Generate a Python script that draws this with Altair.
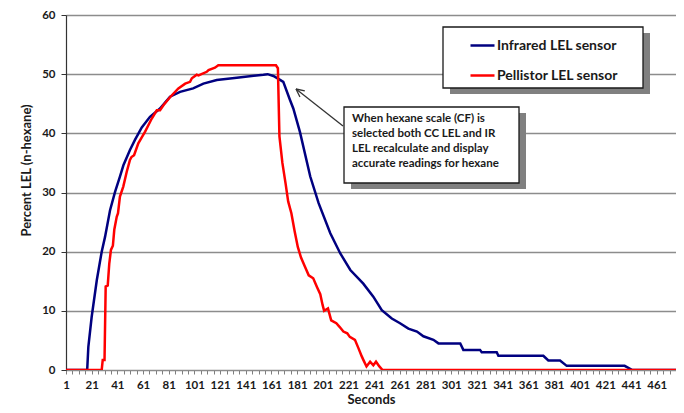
import math
import altair as alt
import pandas as pd

# ---------------- data ----------------
series_names = ["Infrared LEL sensor", "Pellistor LEL sensor"]
series_colors = ["#000080", "#FF0000"]

ir_seconds = [1, 17.5, 18.4, 21, 25, 28.8, 31.4, 35.3, 39.2, 43, 45.7, 50.8, 54.7, 60,
              66.4, 74.2, 82, 89.8, 100, 108, 118.4, 134, 154.7, 158, 162.5, 166.4,
              170.2, 175.5, 178, 183.2, 191.2, 197.7, 206.8, 214.6, 222.4, 232.5, 240.3,
              246.9, 254.7, 261.1, 267.6, 274.3, 279.3, 287.1, 291, 308, 310.4, 323.4,
              324.7, 336.4, 337.7, 372.7, 376.6, 385.7, 390.9, 436, 442, 480]
ir_lel = [0, 0, 3.9, 9, 15.2, 20, 22.5, 27, 30.1, 32.7, 34.6, 37.2, 38.9, 41,
          42.8, 44.2, 46.2, 47, 47.6, 48.4, 49, 49.4, 49.9, 50, 49.7, 49.2,
          48.7, 45.6, 44.2, 40.2, 32.7, 28.2, 23.1, 19.7, 16.9, 14.6, 12.4,
          10.1, 8.7, 7.9, 7.0, 6.5, 5.7, 5.1, 4.5, 4.5, 3.4, 3.4,
          3.0, 3.0, 2.4, 2.4, 1.6, 1.6, 0.7, 0.7, 0, 0]

pel_seconds = [1, 28.8, 29.6, 31, 31.9, 33.5, 34.7, 36, 37.5, 38.6, 40.5, 41.5, 43, 45.6,
               48.3, 50.8, 52, 54, 57.3, 60, 62.6, 67.8, 71.7, 74.2, 77, 82, 88.5, 93.8,
               97.6, 99, 102.8, 104.2, 110.6, 112, 117, 119.6, 164.5, 166, 167.2, 169.5,
               172, 174, 176.5, 179, 181.5, 184, 187, 190, 193.5, 196.5, 199, 200.8, 202,
               205, 207.5, 211.5, 214, 217, 220, 222, 226, 228.7, 231.3, 233, 235, 237.8,
               240.3, 242.4, 245, 247.5, 480]
pel_lel = [0, 0, 1.7, 1.7, 14.1, 14.3, 18, 20.3, 21, 23.7, 25.9, 26.5, 29.3, 31,
           33.5, 35.5, 36, 36.3, 38.3, 39.3, 40.3, 42.5, 43.9, 43.9, 44.8, 46.1, 47.6, 48.4,
           48.7, 49.3, 49.9, 49.8, 50.4, 50.7, 51.1, 51.5, 51.5, 51, 39.5, 35,
           31.5, 28.5, 26.5, 23.5, 20.8, 19, 17.5, 16, 15.5, 14, 12.8, 11, 10,
           10.4, 8.4, 7.9, 7.3, 6.5, 6.2, 5.6, 5.1, 3.7, 2.3, 1.5, 0.6, 1.4,
           0.8, 1.4, 0.6, 0, 0]

y_ticks = [0, 10, 20, 30, 40, 50, 60]
x_minor_ticks = list(range(1, 477, 5))
x_label_step = 20

annotation_lines = ["When hexane scale (CF) is",
                    "selected both CC LEL and IR",
                    "LEL recalculate and display",
                    "accurate readings for hexane"]

assert len(ir_seconds) == len(ir_lel)
assert len(pel_seconds) == len(pel_lel)

df_ir = pd.DataFrame({"Seconds": ir_seconds, "LEL": ir_lel, "Sensor": series_names[0]})
df_pel = pd.DataFrame({"Seconds": pel_seconds, "LEL": pel_lel, "Sensor": series_names[1]})
df_ir["idx"] = range(len(df_ir))
df_pel["idx"] = range(len(df_pel))

FONT = "Lato"
W, H = 610, 355

x_scale = alt.Scale(domain=[1, 476], nice=False, zero=False)
y_scale = alt.Scale(domain=[0, 60], nice=False, zero=True)
color_scale = alt.Scale(domain=series_names, range=series_colors)

x_axis = alt.Axis(values=x_minor_ticks,
                  labelExpr=f"(datum.value - 1) % {x_label_step} == 0 ? datum.label : ''",
                  format="d", labelOverlap=False, labelFlush=False,
                  title="Seconds", grid=False, tickSize=4, tickColor="#7f7f7f",
                  domainColor="#8c8c8c", labelPadding=5, labelFontSize=11.5,
                  labelFont=FONT, labelFontWeight="bold", labelColor="#1a1a1a",
                  titleFont=FONT, titleFontSize=13, titleFontWeight="bold",
                  titleColor="#1a1a1a", titleY=33, titleBaseline="alphabetic")
y_axis = alt.Axis(values=y_ticks, title="Percent LEL (n-hexane)", grid=True,
                  gridColor="#8c8c8c", gridWidth=1.3, tickSize=5, tickColor="#333333",
                  domainColor="#333333", domainWidth=1.2, labelPadding=6,
                  labelFontSize=11.5, labelFont=FONT, labelFontWeight="bold",
                  labelColor="#1a1a1a", titleFont=FONT, titleFontSize=13,
                  titleFontWeight="bold", titleColor="#1a1a1a", titleAngle=270,
                  titleX=-40, titleY=155, titleAlign="center", titleBaseline="middle")

legend = alt.Legend(title=None, orient="none", legendX=403, legendY=17,
                    symbolType="stroke", symbolSize=576, symbolStrokeWidth=2.5,
                    labelFont=FONT, labelFontSize=14, labelFontWeight="bold",
                    labelColor="#1a1a1a", labelOffset=1, rowPadding=9, padding=0)


def line_layer(d):
    return alt.Chart(d).mark_line(strokeWidth=2.5, clip=True).encode(
        x=alt.X("Seconds:Q", scale=x_scale, axis=x_axis),
        y=alt.Y("LEL:Q", scale=y_scale, axis=y_axis),
        color=alt.Color("Sensor:N", scale=color_scale, legend=legend),
        order="idx:Q",
    )


one = pd.DataFrame({"k": [0]})


def box(x1, y1, x2, y2, fill, stroke=None):
    kw = dict(fill=fill)
    if stroke:
        kw.update(stroke=stroke, strokeWidth=1.3)
    return alt.Chart(one).mark_rect(**kw).encode(
        x=alt.value(x1), x2=alt.value(x2), y=alt.value(y1), y2=alt.value(y2))


def rule(x1, y1, x2, y2):
    return alt.Chart(one).mark_rule(color="#333333", strokeWidth=1.3).encode(
        x=alt.value(x1), x2=alt.value(x2), y=alt.value(y1), y2=alt.value(y2))


# legend box (pixel positions in plot area)
leg_box = [377, 12, 577, 73]
ann_box = [278, 92, 453, 168]
shadow = 7

layers = [line_layer(df_ir), line_layer(df_pel)]
layers.append(box(leg_box[0] + shadow, leg_box[1] + 6, leg_box[2] + shadow, leg_box[3] + 6, "#808080"))
layers.append(box(*leg_box, fill="white", stroke="#1a1a1a"))
layers.append(box(ann_box[0] + shadow, ann_box[1] + 6, ann_box[2] + shadow, ann_box[3] + 6, "#808080"))
layers.append(box(*ann_box, fill="white", stroke="#1a1a1a"))
layers.append(alt.Chart(one).mark_text(
    text=annotation_lines, align="left", baseline="top", lineHeight=15,
    font=FONT, fontSize=11.5, fontWeight="bold", color="#1a1a1a").encode(
    x=alt.value(ann_box[0] + 8), y=alt.value(ann_box[1] + 6)))

# arrow from annotation box to the infrared curve
tail = (ann_box[0] - 1, 111)
tip = (230, 74)
ang = math.atan2(tail[1] - tip[1], tail[0] - tip[0])
layers.append(rule(tail[0], tail[1], tip[0], tip[1]))
for s in (-0.45, 0.45):
    layers.append(rule(tip[0], tip[1], tip[0] + 9 * math.cos(ang + s), tip[1] + 9 * math.sin(ang + s)))

chart = alt.layer(*layers).properties(
    width=W, height=H, autosize="none",
    padding={"left": 58, "top": 7, "right": 0, "bottom": 35},
).configure_view(stroke="#8c8c8c", strokeWidth=1.2).configure(background="white")

chart.save("out.html", embed_options={"renderer": "svg", "actions": False})
